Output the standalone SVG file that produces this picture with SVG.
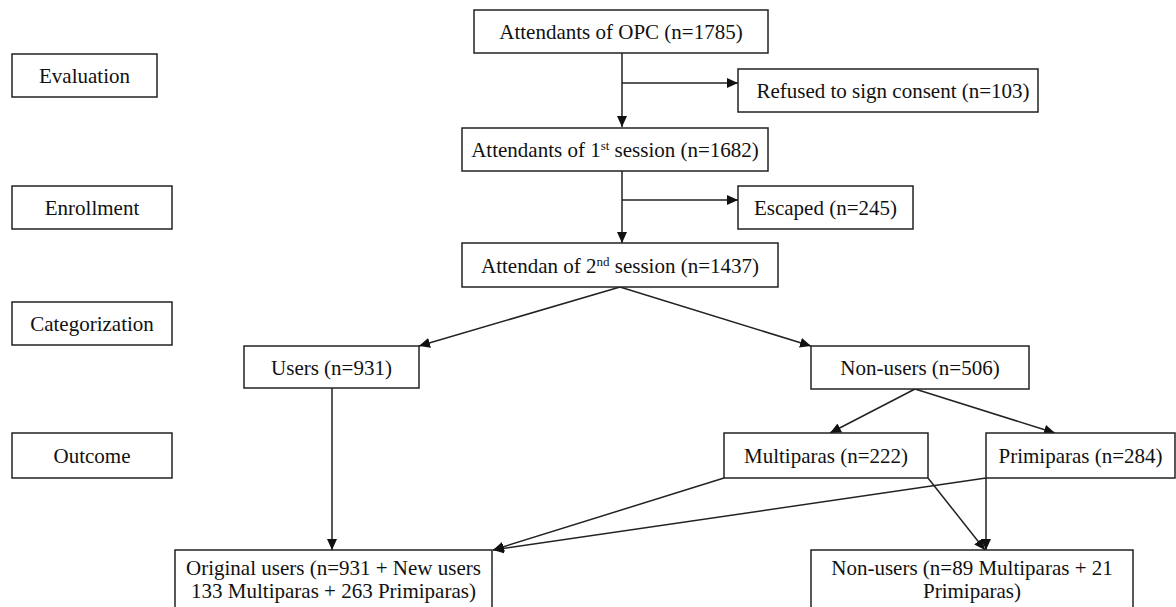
<svg xmlns="http://www.w3.org/2000/svg" width="1176" height="607" viewBox="0 0 1176 607">
<style>
.box{fill:#fff;stroke:#222;stroke-width:1.5}
.t{font-family:"Liberation Serif","Times New Roman",serif;font-size:21px;fill:#111;text-anchor:middle}
.sup{font-size:13px}
.c{stroke:#222;stroke-width:1.5;fill:none;marker-end:url(#ah)}
</style>
<defs>
<marker id="ah" markerUnits="userSpaceOnUse" markerWidth="12" markerHeight="10" refX="11" refY="5" orient="auto">
<path d="M0,0 L11,5 L0,10 Z" fill="#111"/>
</marker>
</defs>
<rect width="1176" height="607" fill="#fff"/>
<g id="connectors">
<line class="c" x1="622" y1="53" x2="622" y2="127"/>
<line class="c" x1="622" y1="83" x2="738" y2="83"/>
<line class="c" x1="622" y1="171" x2="622" y2="243"/>
<line class="c" x1="622" y1="200" x2="738" y2="200"/>
<line class="c" x1="620" y1="287" x2="419" y2="346"/>
<line class="c" x1="620" y1="287" x2="811" y2="346"/>
<line class="c" x1="332" y1="388" x2="332" y2="550"/>
<line class="c" x1="915" y1="389" x2="830" y2="433"/>
<line class="c" x1="915" y1="389" x2="1055" y2="433"/>
<line class="c" x1="724" y1="478" x2="493" y2="550"/>
<line class="c" x1="986" y1="478" x2="493" y2="550"/>
<line class="c" x1="928" y1="478" x2="985" y2="550"/>
<line class="c" x1="986" y1="478" x2="986" y2="550"/>
</g>
<g id="label-evaluation"><rect class="box" x="12" y="54" width="145" height="43"/><text class="t" x="84.5" y="83">Evaluation</text></g>
<g id="label-enrollment"><rect class="box" x="12" y="186" width="160" height="43"/><text class="t" x="92" y="215">Enrollment</text></g>
<g id="label-categorization"><rect class="box" x="12" y="302" width="160" height="43"/><text class="t" x="92" y="331">Categorization</text></g>
<g id="label-outcome"><rect class="box" x="12" y="433" width="160" height="45"/><text class="t" x="92" y="463">Outcome</text></g>
<g id="n-opc"><rect class="box" x="474" y="10" width="294" height="43"/><text class="t" x="621" y="39">Attendants of OPC (n=1785)</text></g>
<g id="n-refused"><rect class="box" x="738" y="69" width="300" height="43"/><text class="t" x="893" y="98">Refused to sign consent (n=103)</text></g>
<g id="n-first"><rect class="box" x="462" y="128" width="306" height="43"/><text class="t" x="615" y="157">Attendants of 1<tspan class="sup" dy="-7">st</tspan><tspan dy="7"> session (n=1682)</tspan></text></g>
<g id="n-escaped"><rect class="box" x="738" y="186" width="175" height="43"/><text class="t" x="825.5" y="215">Escaped (n=245)</text></g>
<g id="n-second"><rect class="box" x="462" y="243" width="316" height="44"/><text class="t" x="620" y="273">Attendan of 2<tspan class="sup" dy="-7">nd</tspan><tspan dy="7"> session (n=1437)</tspan></text></g>
<g id="n-users"><rect class="box" x="244" y="346" width="175" height="42"/><text class="t" x="331.5" y="375">Users (n=931)</text></g>
<g id="n-nonusers"><rect class="box" x="811" y="346" width="218" height="43"/><text class="t" x="920" y="375">Non-users (n=506)</text></g>
<g id="n-multiparas"><rect class="box" x="724" y="433" width="204" height="45"/><text class="t" x="826" y="463">Multiparas (n=222)</text></g>
<g id="n-primiparas"><rect class="box" x="986" y="433" width="189" height="45"/><text class="t" x="1080.5" y="463">Primiparas (n=284)</text></g>
<g id="n-original"><rect class="box" x="175" y="550" width="317" height="70"/><text class="t" x="333.5" y="575">Original users (n=931 + New users<tspan x="333.5" dy="23">133 Multiparas + 263 Primiparas)</tspan></text></g>
<g id="n-nonusers2"><rect class="box" x="811" y="550" width="322" height="70"/><text class="t" x="972" y="575">Non-users (n=89 Multiparas + 21<tspan x="972" dy="23">Primiparas)</tspan></text></g>
</svg>
